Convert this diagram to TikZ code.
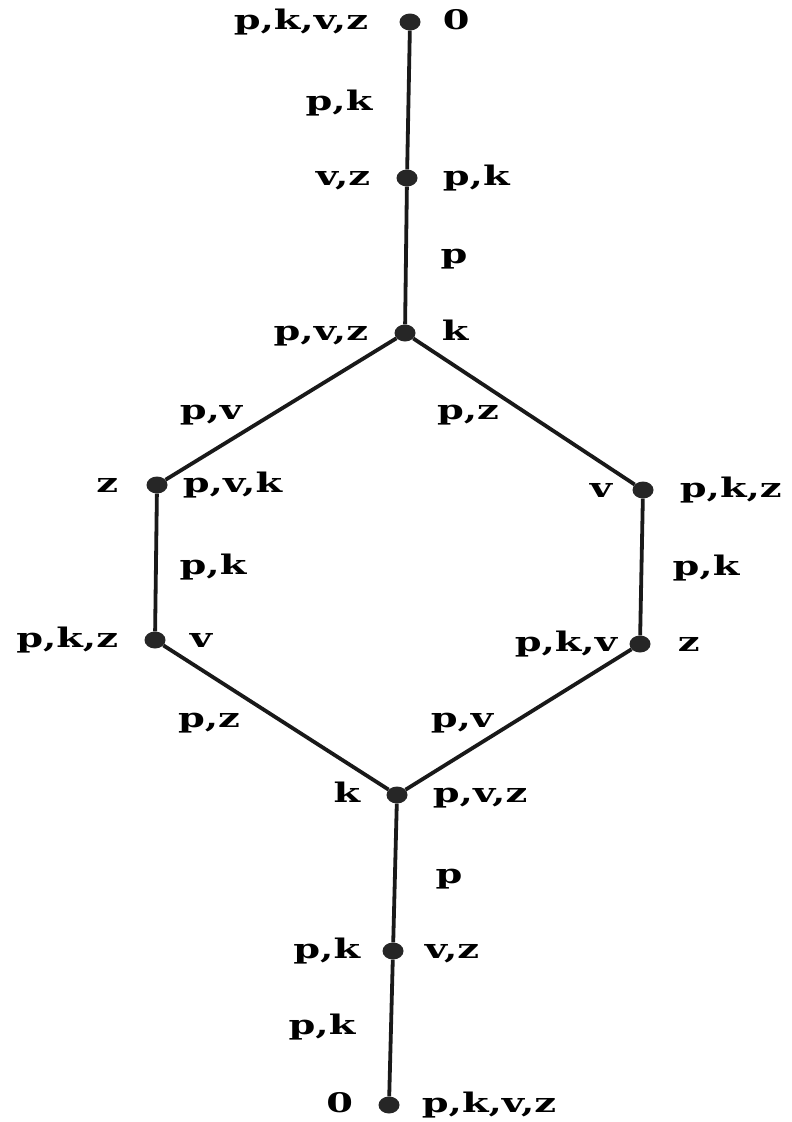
\documentclass[tikz,border=0pt]{standalone}
\usepackage{fontspec}
\setmainfont{DejaVu Serif}[BoldFont={DejaVu Serif Bold}, BoldFeatures={FakeStretch=1.42}]
\usetikzlibrary{shapes.geometric}
\begin{document}
\begin{tikzpicture}[x=1pt,y=-1pt,
  vtx/.style={ellipse,fill=black!85,inner sep=0pt,minimum width=21pt,minimum height=17pt},
  lbl/.style={font=\fontsize{27}{29}\selectfont\bfseries,inner sep=0pt,text height=14pt,text depth=0pt},
  elbl/.style={lbl},
  edge/.style={line width=3.8pt,black!90}]
\useasboundingbox (0,0) rectangle (792,1122);
% vertices
\node[vtx,label={[lbl,name=l1a,label distance=31pt]left:{p,k,v,z}},label={[lbl,name=l1b,label distance=22pt]right:0}] (n1) at (410,22) {};
\node[vtx,label={[lbl,name=l2a,label distance=26pt]left:{v,z}},label={[lbl,name=l2b,label distance=25pt]right:{p,k}}] (n2) at (407,178) {};
\node[vtx,label={[lbl,name=l3a,label distance=26pt]left:{p,v,z}},label={[lbl,name=l3b,label distance=26pt]right:k}] (n3) at (405,333) {};
\node[vtx,label={[lbl,name=l4a,label distance=28pt]left:z},label={[lbl,name=l4b,label distance=15pt]right:{p,v,k}}] (n4) at (157,485) {};
\node[vtx,label={[lbl,name=l5a,label distance=20pt]left:v},label={[lbl,name=l5b,label distance=26pt]right:{p,k,z}}] (n5) at (643,490) {};
\node[vtx,label={[lbl,name=l6a,label distance=26pt]left:{p,k,z}},label={[lbl,name=l6b,label distance=24pt]right:v}] (n6) at (155,640) {};
\node[vtx,label={[lbl,name=l7a,label distance=12pt]left:{p,k,v}},label={[lbl,name=l7b,label distance=27pt]right:z}] (n7) at (640,644) {};
\node[vtx,label={[lbl,name=l8a,label distance=26pt]left:k},label={[lbl,name=l8b,label distance=25pt]right:{p,v,z}}] (n8) at (397,795) {};
\node[vtx,label={[lbl,name=l9a,label distance=22pt]left:{p,k}},label={[lbl,name=l9b,label distance=21pt]right:{v,z}}] (n9) at (393,951) {};
\node[vtx,label={[lbl,name=l10a,label distance=25pt]left:0},label={[lbl,name=l10b,label distance=22pt]right:{p,k,v,z}}] (n10) at (389,1105) {};
% edges
\draw[edge] (n1) -- (n2);
\draw[edge] (n2) -- (n3);
\draw[edge] (n3) -- (n4);
\draw[edge] (n3) -- (n5);
\draw[edge] (n4) -- (n6);
\draw[edge] (n5) -- (n7);
\draw[edge] (n6) -- (n8);
\draw[edge] (n7) -- (n8);
\draw[edge] (n8) -- (n9);
\draw[edge] (n9) -- (n10);
% edge labels
\node[elbl] (e1) at (339,103) {p,k};
\node[elbl] (e2) at (454,256) {p};
\node[elbl] (e3) at (211,412) {p,v};
\node[elbl] (e4) at (468,412) {p,z};
\node[elbl] (e5) at (213,567) {p,k};
\node[elbl] (e6) at (706,568) {p,k};
\node[elbl] (e7) at (209,720) {p,z};
\node[elbl] (e8) at (462,720) {p,v};
\node[elbl] (e9) at (449,876) {p};
\node[elbl] (e10) at (322,1027) {p,k};
\end{tikzpicture}
\end{document}
